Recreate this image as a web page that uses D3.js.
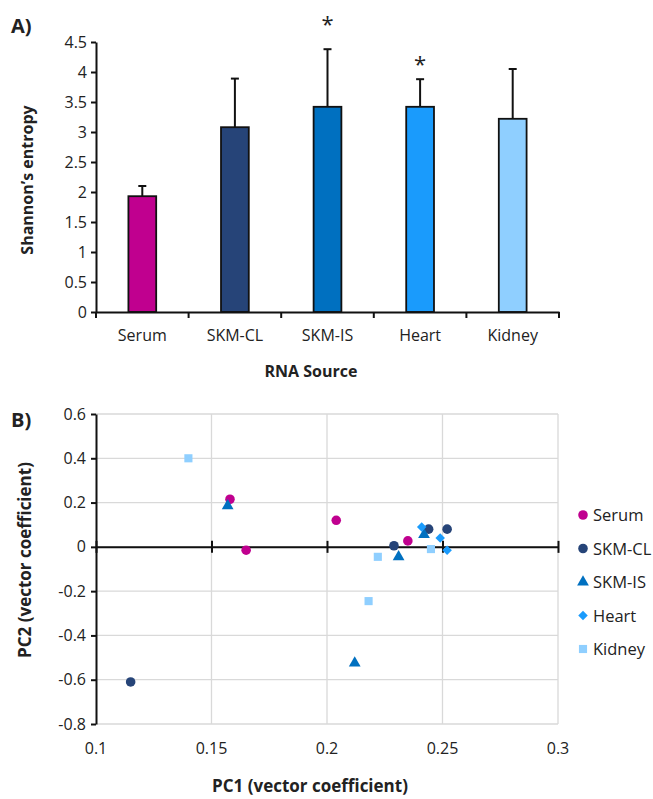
<!DOCTYPE html>
<html>
<head>
<meta charset="utf-8">
<script src="https://cdn.jsdelivr.net/npm/d3@7"></script>
<style>
  body { margin: 0; background: #fff; }
  svg { font-family: "Open Sans", "Noto Sans", sans-serif; }
</style>
</head>
<body>
<svg id="chart" width="653" height="799"></svg>
<script>
// panel A data
const sources = ["Serum", "SKM-CL", "SKM-IS", "Heart", "Kidney"];
const entropy = [1.93, 3.08, 3.42, 3.42, 3.22];
const entropyErr = [0.17, 0.81, 0.96, 0.46, 0.83];
const starLevel = [null, null, 4.87, 4.2, null];
const barColors = ["#C0008F", "#264478", "#0070C0", "#1A9BFC", "#8FCFFF"];
const entropyTicks = [0, 0.5, 1, 1.5, 2, 2.5, 3, 3.5, 4, 4.5];

// panel B data (PC1, PC2 per source)
const serumPts = [[0.158, 0.215], [0.165, -0.015], [0.204, 0.12], [0.235, 0.027]];
const skmClPts = [[0.115, -0.61], [0.229, 0.005], [0.244, 0.08], [0.252, 0.08]];
const skmIsPts = [[0.157, 0.185], [0.231, -0.045], [0.242, 0.055], [0.212, -0.525]];
const heartPts = [[0.241, 0.09], [0.249, 0.04], [0.252, -0.015]];
const kidneyPts = [[0.14, 0.40], [0.222, -0.045], [0.218, -0.245], [0.245, -0.01]];
const pc1Ticks = [0.1, 0.15, 0.2, 0.25, 0.3];
const pc2Ticks = [-0.8, -0.6, -0.4, -0.2, 0, 0.2, 0.4, 0.6];

const svg = d3.select("#chart");
const fmt = d => d3.format("")(d).replace("\u2212", "-");

// ---------- A) bar chart ----------
const xBar = d3.scaleBand()
    .domain(sources)
    .range([96, 559])
    .paddingInner(0.7)
    .paddingOuter(0.35);

const yBar = d3.scaleLinear()
    .domain([0, 4.5])
    .range([312, 42]);

svg.append("text")
    .attr("x", 11).attr("y", 33)
    .attr("font-size", 20).attr("font-weight", "bold").attr("fill", "#222")
    .text("A)");

const barData = sources.map((s, i) => ({ s, v: entropy[i], e: entropyErr[i], star: starLevel[i], c: barColors[i] }));

// error bars (drawn first, bars cover lower part)
const err = svg.append("g").attr("stroke", "#111").attr("stroke-width", 2);
barData.forEach(d => {
    const cx = xBar(d.s) + xBar.bandwidth() / 2;
    err.append("line").attr("x1", cx).attr("x2", cx).attr("y1", yBar(d.v)).attr("y2", yBar(d.v + d.e));
    err.append("line").attr("x1", cx - 4).attr("x2", cx + 4).attr("y1", yBar(d.v + d.e)).attr("y2", yBar(d.v + d.e));
});

svg.append("g")
    .selectAll("rect")
    .data(barData)
    .join("rect")
    .attr("x", d => xBar(d.s))
    .attr("y", d => yBar(d.v))
    .attr("width", xBar.bandwidth())
    .attr("height", d => yBar(0) - yBar(d.v))
    .attr("fill", d => d.c)
    .attr("stroke", "#111")
    .attr("stroke-width", 1.8);

svg.append("g")
    .selectAll("text")
    .data(barData.filter(d => d.star != null))
    .join("text")
    .attr("x", d => xBar(d.s) + xBar.bandwidth() / 2)
    .attr("y", d => yBar(d.star) + 12)
    .attr("text-anchor", "middle")
    .attr("font-size", 22)
    .attr("fill", "#222")
    .text("*");

// y axis
const yAxA = svg.append("g")
    .attr("transform", "translate(96,0)")
    .call(d3.axisLeft(yBar).tickValues(entropyTicks).tickSize(5).tickSizeOuter(0).tickPadding(4).tickFormat(fmt));
yAxA.select(".domain").attr("stroke", "#111").attr("stroke-width", 2);
yAxA.selectAll(".tick line").attr("stroke", "#111").attr("stroke-width", 2);
yAxA.selectAll(".tick text").attr("font-size", 16).attr("fill", "#222").attr("font-family", "Open Sans");

// x axis
const xAxA = svg.append("g")
    .attr("transform", "translate(0,312)")
    .call(d3.axisBottom(xBar).tickSize(0).tickPadding(18));
xAxA.select(".domain").attr("stroke", "#111").attr("stroke-width", 2);
xAxA.selectAll(".tick text").attr("font-size", 16).attr("fill", "#222").attr("font-family", "Open Sans");
const bounds = d3.range(sources.length + 1).map(i => xBar.range()[0] + i * xBar.step());
xAxA.selectAll(".bnd")
    .data(bounds)
    .join("line")
    .attr("x1", d => d).attr("x2", d => d)
    .attr("y1", 0).attr("y2", 6)
    .attr("stroke", "#111").attr("stroke-width", 2);

svg.append("text")
    .attr("transform", "translate(33,180) rotate(-90)")
    .attr("text-anchor", "middle")
    .attr("font-size", 16).attr("font-weight", "bold").attr("fill", "#222")
    .text("Shannon\u2019s entropy");

svg.append("text")
    .attr("x", 311).attr("y", 377)
    .attr("text-anchor", "middle")
    .attr("font-size", 16).attr("font-weight", "bold").attr("fill", "#222")
    .text("RNA Source");

// ---------- B) scatter ----------
const xSc = d3.scaleLinear().domain([0.1, 0.3]).range([96, 558]);
const ySc = d3.scaleLinear().domain([-0.8, 0.6]).range([724, 414]);

svg.append("text")
    .attr("x", 11).attr("y", 427)
    .attr("font-size", 20).attr("font-weight", "bold").attr("fill", "#222")
    .text("B)");

// gridlines
const grid = svg.append("g").attr("stroke", "#d9d9d9").attr("stroke-width", 1.3);
grid.selectAll(".gy").data(pc2Ticks).join("line")
    .attr("x1", xSc(0.1)).attr("x2", xSc(0.3))
    .attr("y1", d => ySc(d)).attr("y2", d => ySc(d));
grid.selectAll(".gx").data(pc1Ticks.slice(1)).join("line")
    .attr("x1", d => xSc(d)).attr("x2", d => xSc(d))
    .attr("y1", ySc(-0.8)).attr("y2", ySc(0.6));

// y axis
const yAxB = svg.append("g")
    .attr("transform", `translate(${xSc(0.1)},0)`)
    .call(d3.axisLeft(ySc).tickValues(pc2Ticks).tickSize(5).tickSizeOuter(0).tickPadding(5).tickFormat(fmt));
yAxB.select(".domain").attr("stroke", "#111").attr("stroke-width", 2);
yAxB.selectAll(".tick line").attr("stroke", "#111").attr("stroke-width", 2);
yAxB.selectAll(".tick text").attr("font-size", 16).attr("fill", "#222").attr("font-family", "Open Sans");

// x axis through zero
const xAxB = svg.append("g")
    .attr("transform", `translate(0,${ySc(0)})`)
    .call(d3.axisBottom(xSc).tickValues(pc1Ticks).tickSize(0).tickFormat(""));
xAxB.select(".domain").attr("stroke", "#111").attr("stroke-width", 2);
xAxB.selectAll(".tick line").attr("y1", -6).attr("y2", 6).attr("stroke", "#111").attr("stroke-width", 2);

// x tick labels at bottom
svg.append("g")
    .selectAll("text")
    .data(pc1Ticks)
    .join("text")
    .attr("x", d => xSc(d))
    .attr("y", 754)
    .attr("text-anchor", "middle")
    .attr("font-size", 16).attr("fill", "#222")
    .text(fmt);

svg.append("text")
    .attr("x", 310).attr("y", 792)
    .attr("text-anchor", "middle")
    .attr("font-size", 17).attr("font-weight", "bold").attr("fill", "#222")
    .text("PC1 (vector coefficient)");

svg.append("text")
    .attr("transform", "translate(31,560) rotate(-90)")
    .attr("text-anchor", "middle")
    .attr("font-size", 17).attr("font-weight", "bold").attr("fill", "#222")
    .text("PC2 (vector coefficient)");

const series = [
    { name: "Serum", pts: serumPts, color: "#C0008F", sym: d3.symbolCircle, size: 72, rot: 0 },
    { name: "SKM-CL", pts: skmClPts, color: "#264478", sym: d3.symbolCircle, size: 72, rot: 0 },
    { name: "SKM-IS", pts: skmIsPts, color: "#0070C0", sym: d3.symbolTriangle, size: 60, rot: 0 },
    { name: "Heart", pts: heartPts, color: "#1A9BFC", sym: d3.symbolSquare, size: 45, rot: 45 },
    { name: "Kidney", pts: kidneyPts, color: "#8FCFFF", sym: d3.symbolSquare, size: 66, rot: 0 }
];

series.forEach(s => {
    svg.append("g")
        .selectAll("path")
        .data(s.pts)
        .join("path")
        .attr("transform", d => `translate(${xSc(d[0])},${ySc(d[1])}) rotate(${s.rot})`)
        .attr("d", d3.symbol().type(s.sym).size(s.size))
        .attr("fill", s.color);
});

// legend
const legend = svg.append("g").attr("transform", "translate(583,515)");
series.forEach((s, i) => {
    const g = legend.append("g").attr("transform", `translate(0,${i * 33.5})`);
    g.append("path").attr("d", d3.symbol().type(s.sym).size(s.size))
        .attr("transform", `rotate(${s.rot})`)
        .attr("fill", s.color);
    g.append("text").attr("x", 10).attr("y", 6)
        .attr("font-size", 16.5).attr("fill", "#222")
        .text(s.name);
});
</script>
</body>
</html>
